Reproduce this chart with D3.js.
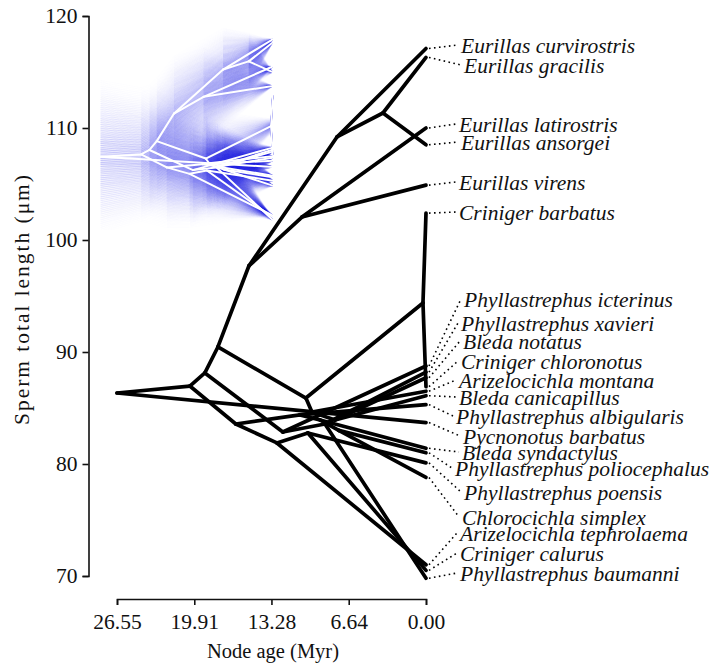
<!DOCTYPE html>
<html>
<head>
<meta charset="utf-8">
<script src="https://cdn.jsdelivr.net/npm/d3@7"></script>
<style>
  body { margin: 0; background: #fff; }
  svg text { font-family: "Liberation Serif", "Times New Roman", serif; fill: #111; }
</style>
</head>
<body>
<svg id="chart" width="710" height="665"></svg>
<script>
// tips, all at age 0
const tipNames = [
  "Eurillas curvirostris", "Eurillas gracilis", "Eurillas latirostris", "Eurillas ansorgei",
  "Eurillas virens", "Criniger barbatus", "Phyllastrephus icterinus", "Phyllastrephus xavieri",
  "Bleda notatus", "Criniger chloronotus", "Arizelocichla montana", "Bleda canicapillus",
  "Phyllastrephus albigularis", "Pycnonotus barbatus", "Bleda syndactylus",
  "Phyllastrephus poliocephalus", "Phyllastrephus poensis", "Chlorocichla simplex",
  "Arizelocichla tephrolaema", "Criniger calurus", "Phyllastrephus baumanni"
];
const tipValues = [117.1, 116.3, 110.0, 108.5, 104.9, 102.4, 88.75, 88.2, 87.7, 86.9, 86.5, 86.1,
  85.3, 83.7, 81.4, 81.0, 80.1, 78.8, 71.0, 70.5, 69.8];
const tipParents = ["H", "J", "I", "J", "I", "G", "P", "Q", "N2", "G", "N1", "N2",
  "C3", "root", "C4", "C5", "K2", "C5", "K", "K2", "Q"];

// internal nodes: age (Myr), reconstructed value, 95% CI half width
const nodeNames   = ["root", "A", "B", "D", "E", "H", "J", "I", "F", "G", "N1", "N2", "P", "Q", "C", "K", "K2", "C3", "C4", "C5"];
const nodeAges    = [26.55, 20.29, 19.0, 17.88, 15.22, 7.65, 3.7, 10.66, 10.32, 0.26, 9.8, 7.82, 12.3, 8.68, 16.34, 12.81, 10.15, 10.83, 9.11, 7.5];
const nodeValues  = [86.34, 86.96, 88.13, 90.45, 97.68, 109.2, 111.34, 102.05, 85.89, 94.38, 84.64, 83.93, 82.86, 83.57, 83.57, 81.88, 82.77, 84.38, 83.93, 83.0];
const nodeCI      = [20, 17.5, 17, 16.5, 15, 10.8, 7.5, 12.7, 12.5, 2, 12.2, 10.9, 13.7, 11.5, 15.8, 14, 12.4, 12.8, 11.8, 10.7];
const nodeParents = [null, "root", "A", "B", "D", "E", "H", "E", "D", "F", "F", "N1", "B", "P", "A", "C", "K", "C", "C3", "C4"];

const xTicks = [26.55, 19.91, 13.28, 6.64, 0.00];
const yTicks = [70, 80, 90, 100, 110, 120];

// label layout (pixels)
const labelY = [45, 65, 124, 142, 182, 212, 299, 323, 341, 361, 380, 397, 416, 436, 452, 468, 492, 517, 533, 553, 573];
const labelX = [461, 464, 459, 461, 459, 459, 464, 461, 463, 461, 459, 459, 456, 463, 462, 455, 464, 462, 460, 460, 460];

const svg = d3.select("#chart");

const nodes = {};
nodeNames.forEach((n, i) => { nodes[n] = { age: nodeAges[i], value: nodeValues[i], ci: nodeCI[i] }; });

// edges parent -> child
const edges = [];
nodeNames.forEach((n, i) => {
  if (nodeParents[i]) edges.push({ from: nodes[nodeParents[i]], to: nodes[n] });
});
tipNames.forEach((n, i) => {
  edges.push({ from: nodes[tipParents[i]], to: { age: 0, value: tipValues[i], ci: 0 } });
});

// main scales
const x = d3.scaleLinear().domain([26.55, 0]).range([117, 426]);
const y = d3.scaleLinear().domain([70, 120]).range([576, 16]);

// inset scales
const xi = d3.scaleLinear().domain([26.55, 0]).range([100.5, 272.7]);
const yi = d3.scaleLinear().domain([70, 120]).range([219.2, 28.3]);

// ---- inset: phenogram with 95% CI fan ----
svg.append("clipPath").attr("id", "insetClip")
  .append("rect").attr("x", 100).attr("y", 17).attr("width", 174).attr("height", 213);

const inset = svg.append("g").attr("clip-path", "url(#insetClip)");
const nLevels = 80;
const levels = d3.range(nLevels + 1).map(k => -1 + 2 * k / nLevels);

levels.forEach(z => {
  const op = 0.006 + 0.15 * Math.pow(1 - Math.abs(z), 1.4);
  inset.append("g").selectAll("line")
    .data(edges)
    .join("line")
    .attr("x1", d => xi(d.from.age))
    .attr("y1", d => yi(d.from.value + z * d.from.ci))
    .attr("x2", d => xi(d.to.age))
    .attr("y2", d => yi(d.to.value + z * d.to.ci))
    .attr("stroke", "rgb(38,38,232)")
    .attr("stroke-opacity", op)
    .attr("stroke-width", 1.2);
});

inset.append("g").selectAll("line")
  .data(edges)
  .join("line")
  .attr("x1", d => xi(d.from.age))
  .attr("y1", d => yi(d.from.value))
  .attr("x2", d => xi(d.to.age))
  .attr("y2", d => yi(d.to.value))
  .attr("stroke", "#fff")
  .attr("stroke-width", 2)
  .attr("stroke-linecap", "round");

// ---- main phenogram ----
svg.append("g").selectAll("line")
  .data(edges)
  .join("line")
  .attr("x1", d => x(d.from.age))
  .attr("y1", d => y(d.from.value))
  .attr("x2", d => x(d.to.age))
  .attr("y2", d => y(d.to.value))
  .attr("stroke", "#000")
  .attr("stroke-width", 3.7)
  .attr("stroke-linecap", "round");

// dotted leaders + species labels
const lab = svg.append("g");
lab.selectAll("line")
  .data(tipValues)
  .join("line")
  .attr("x1", x(0) + 3)
  .attr("y1", d => y(d))
  .attr("x2", (d, i) => labelX[i] - 3)
  .attr("y2", (d, i) => labelY[i])
  .attr("stroke", "#000")
  .attr("stroke-width", 1.6)
  .attr("stroke-dasharray", "1.6,3.4");

lab.selectAll("text")
  .data(tipNames)
  .join("text")
  .attr("x", (d, i) => labelX[i])
  .attr("y", (d, i) => labelY[i])
  .attr("dy", "0.35em")
  .attr("font-style", "italic")
  .attr("font-size", 21.5)
  .text(d => d);

// axes
const yAxis = svg.append("g")
  .attr("transform", "translate(88.5,0)")
  .call(d3.axisLeft(y).tickValues(yTicks).tickSize(6).tickSizeOuter(6).tickPadding(5).tickFormat(d3.format("d")));
const xAxis = svg.append("g")
  .attr("transform", "translate(0,599)")
  .call(d3.axisBottom(x).tickValues(xTicks).tickSize(6).tickSizeOuter(6).tickPadding(9).tickFormat(d3.format(".2f")));

[yAxis, xAxis].forEach(a => {
  a.selectAll("path, line").attr("stroke", "#111").attr("stroke-width", 1.6);
  a.selectAll("text").attr("font-size", 21.5).attr("font-family", "Liberation Serif").attr("fill", "#111");
});

svg.append("text")
  .attr("x", 273).attr("y", 658)
  .attr("text-anchor", "middle")
  .attr("font-size", 20.5)
  .text("Node age (Myr)");

svg.append("text")
  .attr("transform", "translate(29,300) rotate(-90)")
  .attr("text-anchor", "middle")
  .attr("font-size", 21.5)
  .attr("textLength", 250)
  .attr("lengthAdjust", "spacing")
  .text("Sperm total length (μm)");
</script>
</body>
</html>
